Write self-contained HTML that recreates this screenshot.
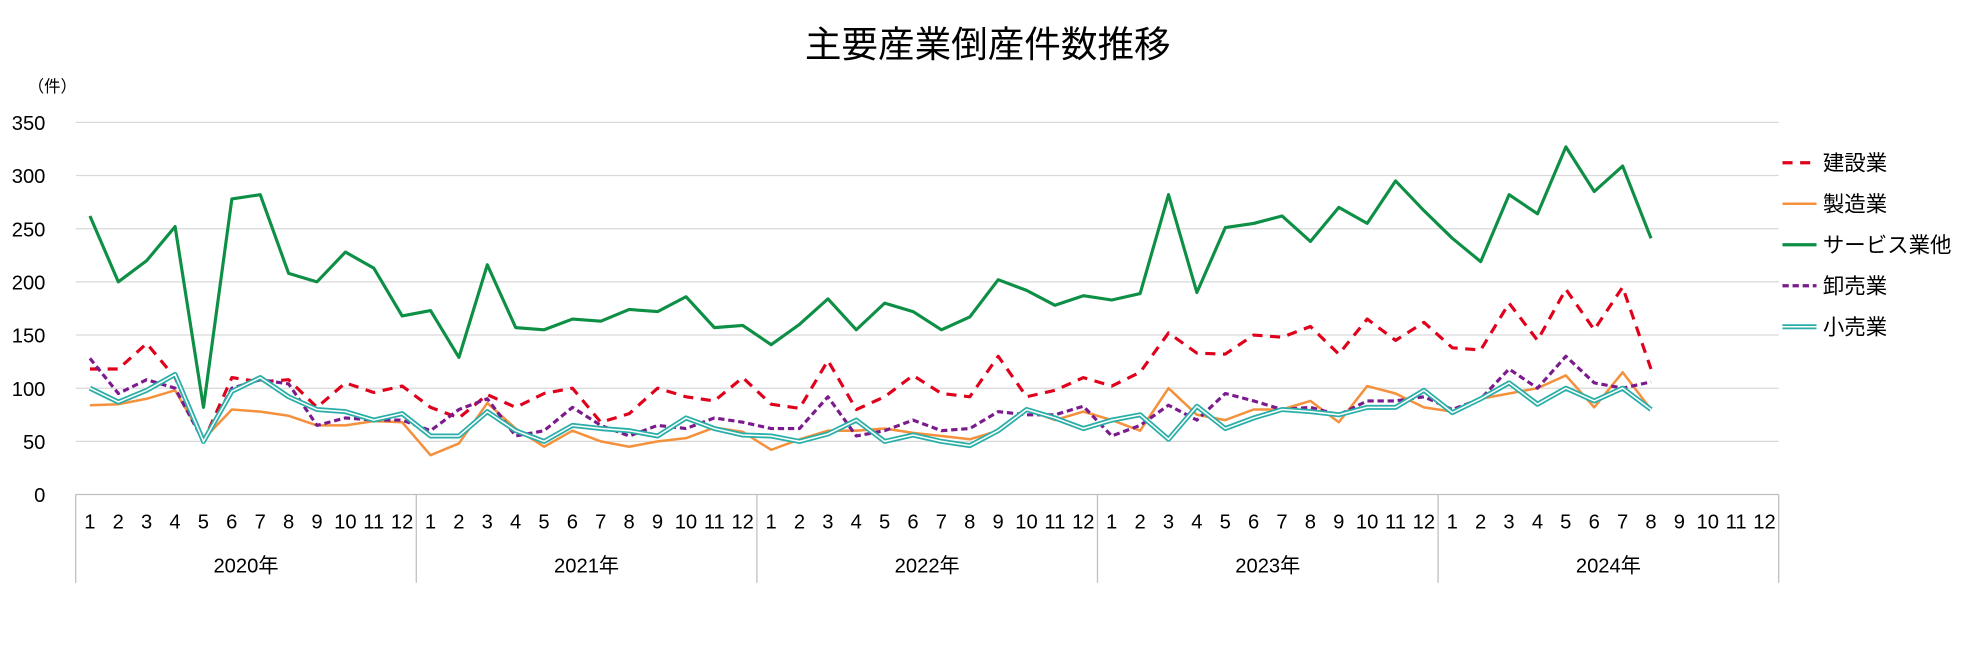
<!DOCTYPE html>
<html><head><meta charset="utf-8"><style>
body{margin:0;background:#fff;}
svg text{font-family:"Liberation Sans","Noto Sans CJK JP",sans-serif;fill:#000;}
</style></head><body>
<svg id="chart" width="1978" height="655" viewBox="0 0 1568 519.2" preserveAspectRatio="none" xmlns="http://www.w3.org/2000/svg">
<text x="783" y="45" font-size="29" text-anchor="middle">主要産業倒産件数推移</text>
<text x="22" y="73" font-size="13">（件）</text>
<g id="grid"></g><g id="axes"></g><g id="series"></g><g id="legend"></g>
<text x="1540" y="535" font-size="18" text-anchor="end">東京商工リサーチ調べ</text>
</svg>
<script>
const years=["2020年","2021年","2022年","2023年","2024年"];
const yTicks=[0,50,100,150,200,250,300,350];
const seriesNames=["建設業","製造業","サービス業他","卸売業","小売業"];
const construction=[118,118,142,110,50,110,106,108,82,105,96,102, 82,72,94,82,95,100,68,76,100,92,88,110, 85,81,126,80,92,112,95,92,130,92,98,110, 102,115,152,133,132,150,148,158,132,165,145,162, 138,136,180,145,193,155,195,118];
const manufacturing=[84,85,90,98,52,80,78,74,65,65,69,68, 37,48,86,62,45,60,50,45,50,53,63,59, 42,52,60,60,62,58,55,52,60,80,70,78, 70,60,100,75,70,80,80,88,68,102,95,82, 78,90,95,100,112,82,115,80];
const services=[262,200,220,252,82,278,282,208,200,228,213,168, 173,129,216,157,155,165,163,174,172,186,157,159, 141,160,184,155,180,172,155,167,202,192,178,187, 183,189,282,190,251,255,262,238,270,255,295,267, 241,219,282,264,327,285,309,241];
const wholesale=[128,95,108,100,50,100,108,104,65,72,70,70, 60,80,90,55,60,82,65,55,65,62,72,68, 62,62,92,55,60,70,60,62,78,75,75,83, 55,65,84,70,95,88,80,82,75,88,88,92, 80,90,118,100,130,105,100,106];
const retail=[100,87,98,113,50,97,110,92,80,78,70,76, 55,55,78,60,50,65,62,60,55,72,62,56, 55,50,57,70,50,56,50,46,60,80,72,62, 70,75,52,83,62,72,80,78,75,82,82,98, 77,90,105,85,100,88,100,80];

const NS="http://www.w3.org/2000/svg";
const X0=60,X1=1410,Y0=392,YTOP=97,YMAX=350,N=60;
const slot=(X1-X0)/N;
const xs=i=>X0+slot*(i+0.5);
const ys=v=>Y0-(v/YMAX)*(Y0-YTOP);
function mk(tag,attrs,parent){const e=document.createElementNS(NS,tag);for(const k in attrs)e.setAttribute(k,attrs[k]);parent.appendChild(e);return e;}
const grid=document.getElementById('grid'),axes=document.getElementById('axes'),ser=document.getElementById('series'),leg=document.getElementById('legend');
yTicks.forEach(t=>{
  if(t>0){const l=mk('line',{x1:X0,x2:X1,y1:ys(t),y2:ys(t),stroke:'#d9d9d9','stroke-width':1},grid);
  
  }
  const tx=mk('text',{x:36,y:ys(t)+6,'font-size':16,'text-anchor':'end'},axes);tx.textContent=t;
  
  
});
const ax=mk('line',{x1:X0,x2:X1,y1:Y0,y2:Y0,stroke:'#bfbfbf'},axes);


for(let y=0;y<=years.length;y++){
  const x=X0+slot*12*y;
  const s=mk('line',{x1:x,x2:x,y1:Y0,y2:462,stroke:'#bfbfbf'},axes);
  
  
}
for(let i=0;i<N;i++){
  const t=mk('text',{x:xs(i),y:419,'font-size':16,'text-anchor':'middle'},axes);t.textContent=(i%12)+1;
  
  
}
years.forEach((yr,k)=>{const t=mk('text',{x:X0+slot*12*(k+0.5),y:454,'font-size':16,'text-anchor':'middle'},axes);t.textContent=yr;
  
  });
function pts(a){return a.map((v,i)=>xs(i).toFixed(1)+','+ys(v).toFixed(1)).join(' ');}
const styles=[
 {data:construction,stroke:'#e0001b',w:2.5,dash:'8,6',name:'construction-line'},
 {data:manufacturing,stroke:'#f4913d',w:2,dash:'',name:'manufacturing-line'},
 {data:services,stroke:'#0e8f46',w:2.5,dash:'',name:'services-line'},
 {data:wholesale,stroke:'#7b1a8c',w:2.5,dash:'5,3',name:'wholesale-line'},
 {data:retail,stroke:'#2aaea8',w:4,dash:'',name:'retail-line',dbl:true}
];
styles.forEach((s,k)=>{
  const p=mk('polyline',{points:pts(s.data),fill:'none',stroke:s.stroke,'stroke-width':s.w,'stroke-dasharray':s.dash,'stroke-linejoin':'round'},ser);
  
  
  if(s.dbl){const q=mk('polyline',{points:pts(s.data),fill:'none',stroke:'#fff','stroke-width':1.2},ser);
    
    }
  const ly=129+k*32.5;
  const l=mk('line',{x1:1413,x2:1440,y1:ly,y2:ly,stroke:s.stroke,'stroke-width':s.w,'stroke-dasharray':s.dash},leg);
  
  
  if(s.dbl){const l2=mk('line',{x1:1413,x2:1440,y1:ly,y2:ly,stroke:'#fff','stroke-width':1.2},leg);
    
    }
  const t=mk('text',{x:1445,y:ly+6,'font-size':17},leg);t.textContent=seriesNames[k];
  
  
});
</script>
</body></html>
